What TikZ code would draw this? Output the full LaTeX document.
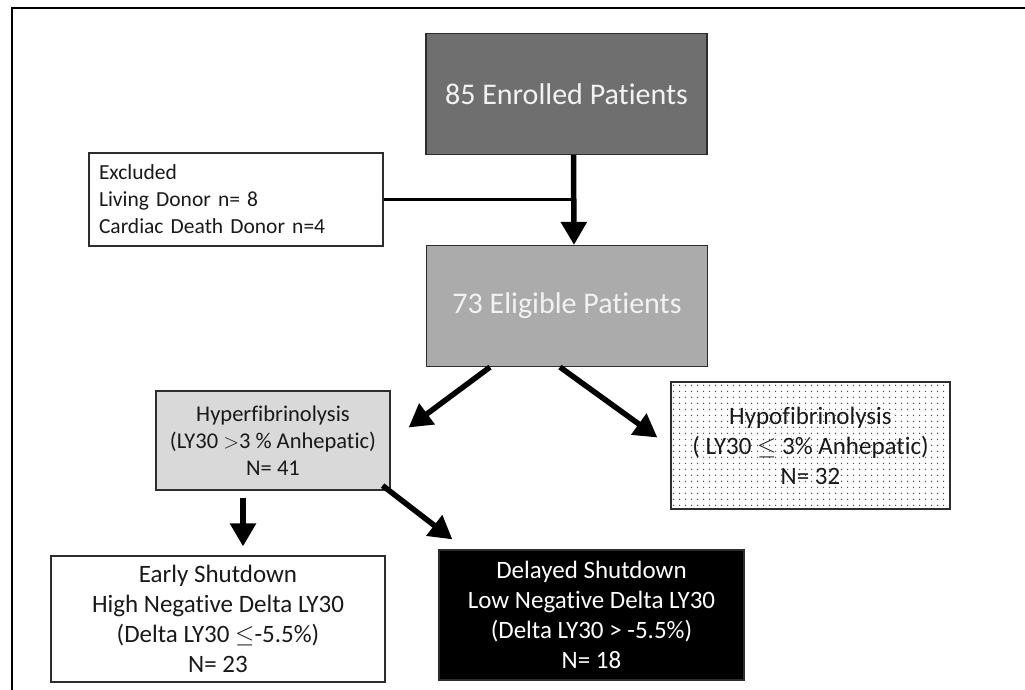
\documentclass[tikz,border=0pt]{standalone}
\usepackage{fontspec}
\setmainfont{Carlito}[Ligatures = NoCommon]
\usepackage{tikz}
\usetikzlibrary{arrows.meta,patterns.meta,positioning}
\usepackage{xcolor}
\definecolor{enrgray}{RGB}{111,111,111}
\definecolor{eliggray}{RGB}{171,171,171}
\definecolor{hypergray}{RGB}{217,217,217}
\definecolor{boxline}{RGB}{45,45,45}
\definecolor{dotgray}{RGB}{85,85,85}

\tikzdeclarepattern{
  name = sparsedots,
  type = uncolored,
  bottom left = {(0pt,0pt)},
  top right = {(5.5pt,5.5pt)},
  tile size = {(5.5pt,5.5pt)},
  code = {\fill (2.75pt,2.75pt) circle (0.8pt);}
}

\begin{document}
\begin{tikzpicture} [
      x = 1pt, y = -1pt,
      inner sep = 0,
      box/.style = { draw = boxline, line width = 1.2pt, align = center, text = black!90 },
      bigbox/.style = { box, minimum width = 281pt, minimum height = 121pt, text = white!95!black,
                        font = \fontsize{30}{36}\selectfont },
      midtxt/.style = { font = \fontsize{25}{30}\selectfont },
      arr/.style = { line width = 5.5pt, -{Triangle[length = 23pt, width = 25pt]} }
      ]

      \useasboundingbox (0,0) rectangle (1025,690);
      \draw [line width = 2.5pt] (1025,8) -- (12,8) -- (12,690);

      \node [bigbox, fill = enrgray] (enr) at (566.5,94) {85 Enrolled Patients};
      \node [bigbox, fill = eliggray] (elig) at (567,306) {73 Eligible Patients};
      \node [box, font = \fontsize{21.5}{27}\selectfont, align = left, text width = 274pt,
        minimum width = 294pt, minimum height = 93pt]
        (excl) at (236,199.5) {Excluded\\Living Donor n= 8\\Cardiac Death Donor n=4};

      \node [box, font = \fontsize{22.5}{27}\selectfont, fill = hypergray, minimum width = 234pt, minimum height = 99pt]
        (hyper) at (273,440.5) {Hyperfibrinolysis\\(LY30 $>$3 \% Anhepatic)\\N= 41};
      \node [box, font = \fontsize{25}{30}\selectfont, pattern = sparsedots, pattern color = dotgray,
        minimum width = 279pt, minimum height = 127pt]
        (hypo) at (810.5,445.5) {Hypofibrinolysis\\( LY30 $\leq$ 3\% Anhepatic)\\N= 32};

      \node [box, midtxt, minimum width = 334pt, minimum height = 126pt]
        (early) at (218,619) {Early Shutdown\\High Negative Delta LY30\\(Delta LY30 $\leq$-5.5\%)\\N= 23};
      \node [box, midtxt, fill = black, text = white, minimum width = 305pt, minimum height = 130pt]
        (delay) at (591.5,615) {Delayed Shutdown\\Low Negative Delta LY30\\(Delta LY30 > -5.5\%)\\N= 18};

      \coordinate (drop) at ([xshift = 7pt]enr.south);
      \coordinate (join) at (drop |- excl.east);

      \draw [arr] (drop) -- ([xshift = 7pt]elig.north);
      \draw [line width = 3pt] (excl.east) -- (join);
      \draw [arr] ([xshift = -77pt]elig.south) -- ([xshift = 18pt, yshift = 13pt]hyper.east);
      \draw [arr] ([xshift = -7pt]elig.south) -- ([xshift = -13pt, yshift = 8pt]hypo.west);
      \draw [arr] ([xshift = -30pt, yshift = -7pt]hyper.south) -- ([xshift = 25pt, yshift = 9pt]early.north);
      \draw [arr] ([xshift = -8pt, yshift = 5pt]hyper.south east) -- ([xshift = 14pt, yshift = 10pt]delay.north west);
    \end{tikzpicture}
\end{document}
